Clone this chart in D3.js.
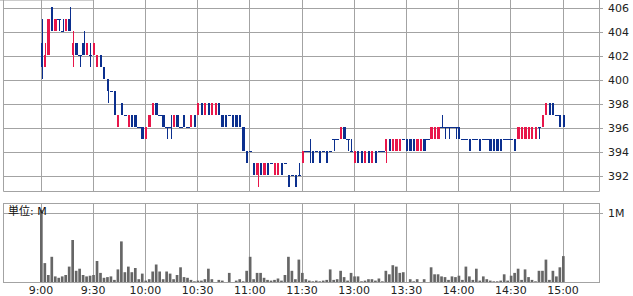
<!DOCTYPE html>
<html>
<head>
<meta charset="utf-8">
<script src="https://d3js.org/d3.v7.min.js"></script>
<style>
    body { margin: 0; background: #fff; }
    svg { display: block; }
    svg text { font-family: 'DejaVu Sans', 'Noto Sans CJK JP', sans-serif; }
</style>
</head>
<body>
<div id="chart"></div>
<script>
// 2-minute candles, 9:00-11:30 then 12:30-15:00 (index 0..150)
var candles = [
    [403,405,400,401],[401,403,401,402],[402,405,402,405],[406,406,404,404],[404,405,404,405],
    [405,405,404,405],[404,405,404,404],[404,405,404,405],[405,406,404,404],[402,404,401,403],
    [403,403,402,402],[402,402,401,402],[403,404,402,402],[402,403,402,403],[402,403,401,402],
    [402,403,402,403],[401,402,401,402],[402,402,401,401],[401,401,400,400],[400,400,398,399],
    [399,399,399,399],[399,399,397,397],[396,397,396,397],[398,398,397,397],[397,397,397,397],
    [396,397,396,397],[397,397,396,396],[397,397,396,396],[396,396,396,396],[396,396,395,395],
    [395,396,395,396],[396,397,396,397],[397,398,397,398],[398,398,397,397],[397,397,397,397],
    [397,397,396,396],[396,396,395,396],[396,397,395,396],[396,397,396,397],[397,397,396,396],
    [396,396,396,396],[397,397,396,396],[396,396,396,396],[396,397,396,397],[397,397,396,396],
    [397,398,397,398],[398,398,397,397],[397,398,397,398],[398,398,397,397],[397,398,397,398],
    [397,398,397,398],[398,398,397,397],[397,397,396,396],[397,397,396,396],[397,397,397,397],
    [397,397,396,396],[397,397,396,396],[397,397,396,396],[396,396,394,394],[394,394,393,393],
    [394,394,394,394],[393,393,392,392],[392,393,391,393],[393,393,392,392],[392,393,392,393],
    [393,393,392,392],[393,393,393,393],[392,393,392,393],[392,393,392,393],[393,393,392,392],
    [393,393,393,393],[392,392,391,391],[392,392,392,392],[392,392,391,391],[392,393,392,392],
    [393,394,393,394],[394,394,394,394],[394,395,393,394],[394,394,393,393],[394,394,394,394],
    [394,394,393,393],[394,394,394,394],[394,394,393,393],[394,394,394,394],[395,395,394,395],
    [395,395,395,395],[395,396,395,396],[396,396,395,395],[395,395,394,395],[394,395,394,394],
    [393,394,393,394],[394,394,393,393],[394,394,393,393],[393,394,393,394],[394,394,393,393],
    [393,394,393,394],[394,394,393,393],[394,394,394,394],[394,394,394,394],[394,395,393,395],
    [395,395,394,394],[394,395,394,395],[394,395,394,395],[394,395,394,395],[395,395,395,395],
    [395,395,394,394],[395,395,394,394],[395,395,394,394],[394,395,394,395],[394,395,394,395],
    [395,395,394,394],[395,395,395,395],[395,396,395,396],[395,396,395,396],[395,396,395,396],
    [396,397,396,396],[396,396,395,396],[396,396,395,396],[396,396,396,396],[396,396,395,396],
    [396,396,395,395],[395,395,395,395],[395,395,395,395],[395,395,394,394],[395,395,395,395],
    [395,395,395,395],[395,395,394,394],[395,395,395,395],[395,395,395,395],[395,395,394,394],
    [395,395,394,394],[395,395,394,394],[395,395,394,394],[395,395,395,395],[395,395,395,395],
    [395,395,395,395],[395,395,394,394],[395,396,395,396],[395,396,395,396],[395,396,395,396],
    [395,396,395,396],[395,396,395,396],[395,396,395,396],[396,396,395,396],[396,397,396,397],
    [397,398,397,398],[398,398,397,397],[398,398,397,397],[397,397,397,397],[397,397,396,396],
    [397,397,396,396]
];

// volume, millions of shares
var volumes = [
    1.03,0.27,0.10,0.36,0.08,0.06,0.08,0.10,0.22,0.60,
    0.16,0.19,0.10,0.08,0.09,0.10,0.30,0.13,0.06,0.07,
    0.08,0.03,0.18,0.58,0.14,0.22,0.14,0.20,0.04,0.12,
    0.02,0.04,0.15,0.25,0.15,0.04,0.15,0.12,0.04,0.10,
    0.21,0.07,0.06,0.03,0.01,0.02,0.02,0.04,0.19,0.04,
    0.00,0.03,0.02,0.00,0.13,0.00,0.02,0.04,0.01,0.16,
    0.36,0.04,0.13,0.13,0.06,0.03,0.02,0.03,0.05,0.02,
    0.10,0.36,0.16,0.04,0.32,0.13,0.04,0.02,0.01,0.02,
    0.01,0.02,0.03,0.18,0.03,0.04,0.16,0.07,0.02,0.13,
    0.08,0.08,0.01,0.02,0.04,0.04,0.02,0.05,0.01,0.16,
    0.11,0.24,0.22,0.13,0.14,0.00,0.04,0.01,0.04,0.00,
    0.04,0.00,0.21,0.11,0.11,0.08,0.07,0.03,0.08,0.07,
    0.09,0.03,0.22,0.08,0.03,0.19,0.02,0.08,0.04,0.02,
    0.01,0.01,0.02,0.11,0.02,0.09,0.13,0.19,0.03,0.18,
    0.07,0.03,0.01,0.16,0.16,0.32,0.03,0.16,0.08,0.21,
    0.37
];

var timeTickIdx = [0, 15, 30, 45, 60, 75, 90, 105, 120, 135, 150];
var timeTickLabels = ['9:00', '9:30', '10:00', '10:30', '11:00', '11:30', '13:00', '13:30', '14:00', '14:30', '15:00'];
var priceTicks = [392, 394, 396, 398, 400, 402, 404, 406];
var volTicks = [1];
var volTickLabels = ['1M'];

(function () {
    'use strict';

    var width = 633;
    var height = 296;

    var left = 3.5;
    var right = 599.5;
    var priceTop = 0;
    var priceBottom = 191.5;
    var volTop = 203.5;
    var volBottom = 282.5;

    var gridColor = '#a3a3a3';
    var upColor = '#e8164a';
    var downColor = '#0b2f8e';
    var volColor = '#666666';
    var fontFamily = "'DejaVu Sans', 'Noto Sans CJK JP', sans-serif";

    var x = d3.scaleLinear().domain([0, 150]).range([40, 562]);
    var yPrice = d3.scaleLinear().domain([392, 406]).range([175, 7]);
    var yVol = d3.scaleLinear().domain([0, 1]).range([282, 212]);
    var step = x(1) - x(0);

    var svg = d3.select('#chart')
        .append('svg')
        .attr('width', width)
        .attr('height', height);

    // stray top border piece
    svg.append('line')
        .attr('x1', 0).attr('x2', 93)
        .attr('y1', 0.5).attr('y2', 0.5)
        .attr('stroke', '#cccccc');

    drawPricePanel();
    drawVolumePanel();

    function translate(tx, ty) {
        return 'translate(' + tx + ',' + ty + ')';
    }

    function styleAxis(g) {
        g.attr('font-family', fontFamily);
        g.select('.domain').remove();
        g.selectAll('.tick line')
            .attr('stroke', gridColor)
            .attr('shape-rendering', 'crispEdges');
        g.selectAll('.tick text')
            .attr('fill', '#222')
            .attr('font-size', 11);
    }

    function outline(y0, y1) {
        svg.append('rect')
            .attr('x', left)
            .attr('y', y0)
            .attr('width', right - left)
            .attr('height', y1 - y0)
            .attr('fill', 'none')
            .attr('stroke', gridColor)
            .attr('shape-rendering', 'crispEdges');
    }

    function candleColor(d) {
        return d[3] > d[0] ? upColor : downColor;
    }

    function drawPricePanel() {
        // vertical grid
        svg.append('g')
            .attr('transform', translate(0.5, priceBottom))
            .call(d3.axisBottom(x).tickValues(timeTickIdx).tickSize(-priceBottom).tickFormat(''))
            .call(styleAxis);

        // price axis on the right
        svg.append('g')
            .attr('transform', translate(603, 0.5))
            .call(d3.axisRight(yPrice).tickValues(priceTicks).tickSize(-(603 - left)).tickPadding(5))
            .call(styleAxis);

        [left, right].forEach(function (xx) {
            svg.append('line')
                .attr('x1', xx).attr('x2', xx)
                .attr('y1', priceTop).attr('y2', priceBottom)
                .attr('stroke', gridColor);
        });
        svg.append('line')
            .attr('x1', left).attr('x2', right)
            .attr('y1', priceBottom).attr('y2', priceBottom)
            .attr('stroke', gridColor);

        var g = svg.append('g').attr('shape-rendering', 'crispEdges');

        var bars = g.selectAll('g.candle')
            .data(candles)
            .enter()
            .append('g')
            .attr('class', 'candle');

        bars.each(function (d, i) {
            var bar = d3.select(this);
            var cx = Math.round(x(i) + step / 2) + 0.5;

            bar.append('line')
                .attr('x1', cx).attr('x2', cx)
                .attr('y1', yPrice(d[1]))
                .attr('y2', yPrice(d[2]))
                .attr('stroke', candleColor(d));

            if (d[0] === d[3]) {
                bar.append('line')
                    .attr('x1', x(i))
                    .attr('x2', x(i + 1))
                    .attr('y1', yPrice(d[0]) + 0.5)
                    .attr('y2', yPrice(d[0]) + 0.5)
                    .attr('stroke', downColor);
            } else {
                bar.append('rect')
                    .attr('x', x(i) + 0.5)
                    .attr('width', step - 1.2)
                    .attr('y', yPrice(Math.max(d[0], d[3])))
                    .attr('height', Math.abs(yPrice(d[0]) - yPrice(d[3])))
                    .attr('fill', candleColor(d));
            }
        });
    }

    function drawVolumePanel() {
        svg.append('g')
            .attr('transform', translate(0.5, volBottom - 0.5))
            .call(d3.axisBottom(x).tickValues(timeTickIdx).tickSize(-(volBottom - volTop))
                .tickPadding(4)
                .tickFormat(function (d, i) { return timeTickLabels[i]; }))
            .call(styleAxis);

        svg.append('g')
            .attr('transform', translate(603, 0.5))
            .call(d3.axisRight(yVol).tickValues(volTicks).tickSize(-(603 - left)).tickPadding(5)
                .tickFormat(function (d, i) { return volTickLabels[i]; }))
            .call(styleAxis);

        outline(volTop, volBottom);

        svg.append('g')
            .selectAll('rect')
            .data(volumes)
            .enter()
            .append('rect')
            .attr('x', function (d, i) { return x(i); })
            .attr('width', step - 0.8)
            .attr('y', function (d) { return yVol(d); })
            .attr('height', function (d) { return yVol(0) - yVol(d); })
            .attr('fill', volColor);

        svg.append('text')
            .attr('x', 8)
            .attr('y', 215)
            .attr('font-size', 11)
            .attr('fill', '#111')
            .text('単位: M');
    }

}());
</script>
</body>
</html>
